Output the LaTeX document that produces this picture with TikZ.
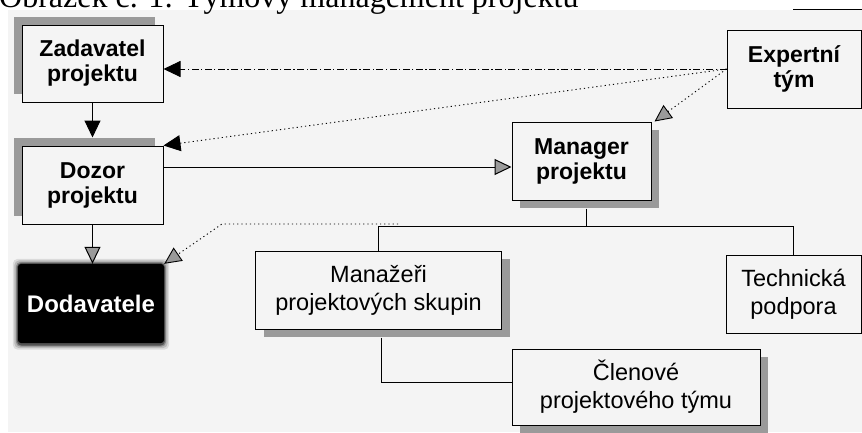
\documentclass[tikz,border=0pt]{standalone}
\usepackage{fontspec}
\setmainfont{Liberation Serif}
\setsansfont{Liberation Sans}
\usetikzlibrary{arrows.meta,shadows,backgrounds}
\definecolor{paper}{HTML}{F4F4F4}
\definecolor{shade}{HTML}{9A9A9A}

\begin{document}
\begin{tikzpicture}[x=1pt,y=-1pt,
  box/.style={draw=black, line width=1pt, fill=paper, align=center, inner sep=0pt},
  boldbox/.style={box, font=\sffamily\bfseries\fontsize{23}{25}\selectfont},
  plainbox/.style={box, font=\sffamily\fontsize{23.5}{28}\selectfont},
  shadeTL/.style={drop shadow={shadow xshift=-8pt, shadow yshift=8pt, fill=shade, opacity=1}},
  shadeBR/.style={drop shadow={shadow xshift=8pt, shadow yshift=-8pt, fill=shade, opacity=1}},
  link/.style={line width=1pt},
  blacktip/.style={-{Triangle[length=17pt,width=16pt]}},
  graytip/.style={-{Triangle[length=17pt,width=16pt,fill=shade]}},
  dotline/.style={line width=0.9pt, dash pattern=on 1.2pt off 3pt},
  dashdotline/.style={line width=0.9pt, dash pattern=on 7pt off 2.5pt on 1.2pt off 2.5pt}
]
\useasboundingbox (0,0) rectangle (862,432);

% paper area under the chart
\begin{pgfonlayer}{background}
  \fill[white] (0,0) rectangle (862,432);
  \fill[paper] (8,9.5) rectangle (862,432);
\end{pgfonlayer}
\draw[line width=1pt] (793,9) -- (862,9);

% caption
\node[anchor=base west, inner sep=0pt, font=\fontsize{32}{32}\selectfont] (caption) at (-1,7.5)
  {Obrázek č. 1: Týmový management projektu};

% boxes
\node[boldbox, shadeTL, minimum width=141pt, minimum height=77pt] (zad) at (92.5,63.5) {Zadavatel\\projektu};
\node[boldbox, shadeTL, minimum width=141pt, minimum height=78pt] (doz) at (92.5,185) {Dozor\\projektu};
\node[boldbox, shadeBR, minimum width=139pt, minimum height=78pt] (man) at (581.5,161) {Manager\\projektu};
\node[boldbox, minimum width=134pt, minimum height=78pt] (exp) at (794,69) {Expertní\\tým};
\node[plainbox, shadeBR, minimum width=246pt, minimum height=78pt] (mns) at (378.5,290) {Manažeři\\projektových skupin};
\node[plainbox, minimum width=135pt, minimum height=78pt] (tech) at (793.5,294) {Technická\\podpora};
\node[plainbox, shadeBR, minimum width=248pt, minimum height=76pt] (cle) at (636,387) {Členové\\projektového týmu};
\node[fill=black, rounded corners=3pt, minimum width=146pt, minimum height=79pt, inner sep=0pt,
      text=white, font=\sffamily\bfseries\fontsize{24}{26}\selectfont] (dod) at (91,303.5) {Dodavatele};

% soft edge round the dark box
\begin{pgfonlayer}{background}
  \foreach \d/\o in {5/0.10, 3.5/0.15, 2/0.25, 1/0.4}
    \fill[black, opacity=\o, rounded corners=5pt]
      ([shift={(-\d,-\d)}]dod.north west) rectangle ([shift={(\d,\d+1.5)}]dod.south east);
\end{pgfonlayer}

% helper points
\coordinate (bus) at (0,226);
\coordinate (mline) at ([yshift=-6pt]man.west);
\coordinate (mdrop) at ([xshift=4.5pt,yshift=-8pt]man.south);
\coordinate (dstart) at (398,224);
\coordinate (dbend) at (222,224);

% solid connectors
\draw[link, blacktip] (zad.south) -- ([yshift=8pt]doz.north);
\draw[link, graytip] (doz.south) -- (doz.south |- dod.north);
\draw[link, graytip] (doz.east |- mline) -- (mline);

% tree below the manager
\draw[link] (mdrop) -- (mdrop |- bus);
\draw[link] (mns.north) -- (mns.north |- bus) -- (tech.north |- bus) -- (tech.north);
\draw[link] ([xshift=2.5pt,yshift=-8pt]mns.south) |- ([yshift=5pt]cle.west);

% links from the expert team
\draw[dashdotline, blacktip] (exp.west) -- (zad.east |- exp.west);
\draw[dotline, blacktip] (exp.west) -- (doz.north east);
\draw[dotline, graytip] (exp.west) -- ([xshift=3pt]man.north east);

% link to the suppliers
\draw[dotline, graytip] (dstart) -- (dbend) -- (dod.north east);
\end{tikzpicture}
\end{document}
